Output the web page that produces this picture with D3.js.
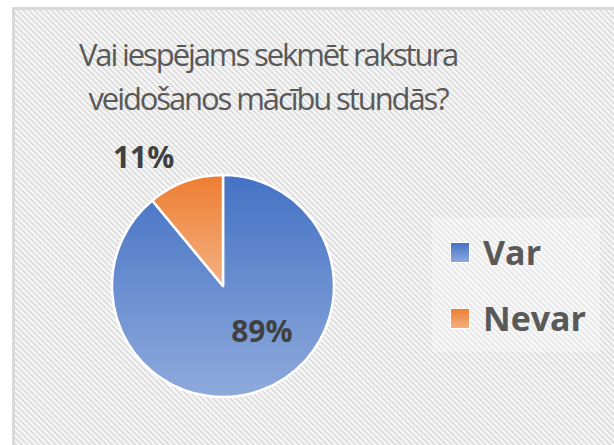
<!DOCTYPE html>
<html>
<head>
<meta charset="utf-8">
<script src="https://cdn.jsdelivr.net/npm/d3@7"></script>
<style>
  body { margin: 0; background: #ffffff; }
  svg { display: block; }
</style>
</head>
<body>
<div id="chart"></div>
<script>
const titleLines = ["Vai iespējams sekmēt rakstura", "veidošanos mācību stundās?"];
const categories = ["Var", "Nevar"];
const values = [89, 11];
const labels = ["89%", "11%"];
const colorsTop = ["#4472C4", "#ED7D31"];
const colorsBottom = ["#8FAADC", "#F4B183"];

const width = 614;
const height = 445;

const svg = d3.select("#chart").append("svg")
              .attr("width", width)
              .attr("height", height);

const defs = svg.append("defs");

// diagonal stripes of the chart area
const stripes = defs.append("pattern")
    .attr("id", "stripes")
    .attr("patternUnits", "userSpaceOnUse")
    .attr("width", 4)
    .attr("height", 4)
    .attr("patternTransform", "rotate(-45)");
stripes.append("rect").attr("width", 4).attr("height", 4).attr("fill", "#f8f8f8");
stripes.append("rect").attr("width", 2).attr("height", 4).attr("fill", "#dedede");

categories.forEach(function(c, i) {
  const g = defs.append("linearGradient")
      .attr("id", "grad" + i)
      .attr("x1", 0).attr("y1", 0).attr("x2", 0).attr("y2", 1);
  g.append("stop").attr("offset", "0%").attr("stop-color", colorsTop[i]);
  g.append("stop").attr("offset", "100%").attr("stop-color", colorsBottom[i]);
});

// frame
svg.append("rect")
    .attr("x", 13.5).attr("y", 8.5)
    .attr("width", width + 20).attr("height", height + 20)
    .attr("fill", "url(#stripes)")
    .attr("stroke", "#d9d9d9")
    .attr("stroke-width", 3);

// title
svg.append("g").selectAll("text")
    .data(titleLines)
    .enter()
    .append("text")
    .attr("x", 268)
    .attr("y", function(d, i) { return 66 + i * 44; })
    .attr("text-anchor", "middle")
    .style("font-family", "'Open Sans', sans-serif")
    .style("font-size", "31px")
    .style("letter-spacing", "-2.1px")
    .style("fill", "#595959")
    .text(function(d) { return d; });

// pie
const cx = 223, cy = 286, radius = 111;

const pie = d3.pie().sort(null).value(function(d) { return d; });
const arc = d3.arc().innerRadius(0).outerRadius(radius);
const arcs = pie(values);

const pieG = svg.append("g").attr("transform", "translate(" + cx + "," + cy + ")");

pieG.selectAll("path")
    .data(arcs)
    .enter()
    .append("path")
    .attr("d", arc)
    .attr("fill", function(d, i) { return "url(#grad" + i + ")"; })
    .attr("stroke", "#ffffff")
    .attr("stroke-width", 2.5)
    .attr("stroke-linejoin", "round");

// data labels (offsets in fractions of the radius, as placed by the original "best fit")
const labelPos = [[0.35, 0.41], [-0.715, -1.155]];

pieG.selectAll("text")
    .data(arcs)
    .enter()
    .append("text")
    .attr("x", function(d, i) { return labelPos[i][0] * radius; })
    .attr("y", function(d, i) { return labelPos[i][1] * radius; })
    .attr("text-anchor", "middle")
    .attr("dy", "0.35em")
    .style("font-family", "'Open Sans', sans-serif")
    .style("font-weight", "bold")
    .style("font-size", "30px")
    .style("fill", "#404040")
    .text(function(d, i) { return labels[i]; });

// legend
const legend = svg.append("g").attr("transform", "translate(432,218)");

legend.append("rect")
    .attr("width", 168).attr("height", 134)
    .attr("fill", "#ffffff")
    .attr("opacity", 0.3);

const items = legend.selectAll("g.item")
    .data(categories)
    .enter()
    .append("g")
    .attr("class", "item")
    .attr("transform", function(d, i) { return "translate(0," + (i * 66) + ")"; });

items.append("rect")
    .attr("x", 18.5).attr("y", 24.5)
    .attr("width", 19).attr("height", 20)
    .attr("fill", function(d, i) { return "url(#grad" + i + ")"; })
    .attr("stroke", "#ffffff")
    .attr("stroke-width", 1);

items.append("text")
    .attr("x", 51)
    .attr("y", 47)
    .style("font-family", "'Open Sans', sans-serif")
    .style("font-weight", "bold")
    .style("font-size", "34px")
    .style("fill", "#595959")
    .text(function(d) { return d; });
</script>
</body>
</html>
